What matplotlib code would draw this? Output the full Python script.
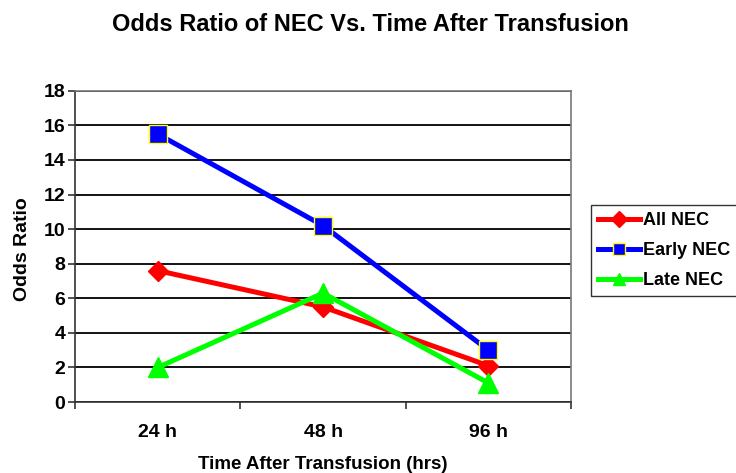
import numpy as np
import matplotlib.pyplot as plt
from matplotlib.ticker import FixedLocator

plt.rcParams['font.family'] = ['Liberation Sans', 'DejaVu Sans']

# Data
categories = ['24 h', '48 h', '96 h']
all_nec = [7.6, 5.5, 2.1]
early_nec = [15.5, 10.2, 3.0]
late_nec = [2.0, 6.3, 1.1]

x = np.arange(len(categories))

fig = plt.figure(figsize=(7.36, 4.73), dpi=100)
ax = fig.add_axes([0.102, 0.150, 0.674, 0.658])

# Horizontal grid lines (Excel style)
ax.set_ylim(0, 18)
ax.set_yticks(np.arange(0, 19, 2))
ax.grid(axis='y', color='black', linewidth=1.3)
ax.set_axisbelow(True)

ax.plot(x, all_nec, color='#ff0000', linewidth=3.6, marker='D', markersize=10,
        markeredgecolor='#ff0000', label='All NEC', zorder=3)
ax.plot(x, early_nec, color='#0000ff', linewidth=3.6, marker='s', markersize=12.5,
        markerfacecolor='#0000ff', markeredgecolor='#ffff00', markeredgewidth=1,
        label='Early NEC', zorder=3)
ax.plot(x, late_nec, color='#00ff00', linewidth=3.6, marker='^', markersize=14,
        markeredgecolor='#00ff00', label='Late NEC', zorder=3)

# Categories sit between tick marks
ax.set_xlim(-0.5, len(categories) - 0.5)
ax.set_xticks(x)
ax.set_xticklabels(categories, fontsize=14, fontweight='bold')
ax.xaxis.set_minor_locator(FixedLocator(np.arange(-0.5, len(categories), 1)))
ax.tick_params(axis='x', which='major', length=0, pad=16)
ax.tick_params(axis='x', which='minor', length=5, width=1.2, direction='out', color='#333333')
ax.tick_params(axis='y', length=5, width=1.2, direction='out', color='#333333',
               labelsize=14, pad=2)
for lab in ax.get_yticklabels():
    lab.set_fontweight('bold')

for side in ['left', 'bottom']:
    ax.spines[side].set_color('#333333')
    ax.spines[side].set_linewidth(1.2)
for side in ['top', 'right']:
    ax.spines[side].set_color('#777777')
    ax.spines[side].set_linewidth(1.2)

ax.set_ylabel('Odds Ratio', fontsize=14, fontweight='bold')
ax.yaxis.set_label_coords(-0.088, 0.49)
ax.set_xlabel('Time After Transfusion (hrs)', fontsize=13.5, fontweight='bold')
ax.xaxis.set_label_coords(0.5, -0.172)

fig.text(0.503, 0.949, 'Odds Ratio of NEC Vs. Time After Transfusion',
         ha='center', va='center', fontsize=17, fontweight='bold')

leg = ax.legend(loc='upper left', bbox_to_anchor=(0.803, 0.567),
                bbox_transform=fig.transFigure, fontsize=13, frameon=True,
                fancybox=False, borderpad=0.4, handlelength=2.3,
                handletextpad=0.2, labelspacing=0.72, borderaxespad=0)
leg.get_frame().set_edgecolor('black')
leg.get_frame().set_linewidth(1.0)
for t in leg.get_texts():
    t.set_fontweight('bold')
for h, ms in zip(leg.legend_handles, [8, 8, 9]):
    h.set_markersize(ms)

fig.savefig('out.png', dpi=100)
